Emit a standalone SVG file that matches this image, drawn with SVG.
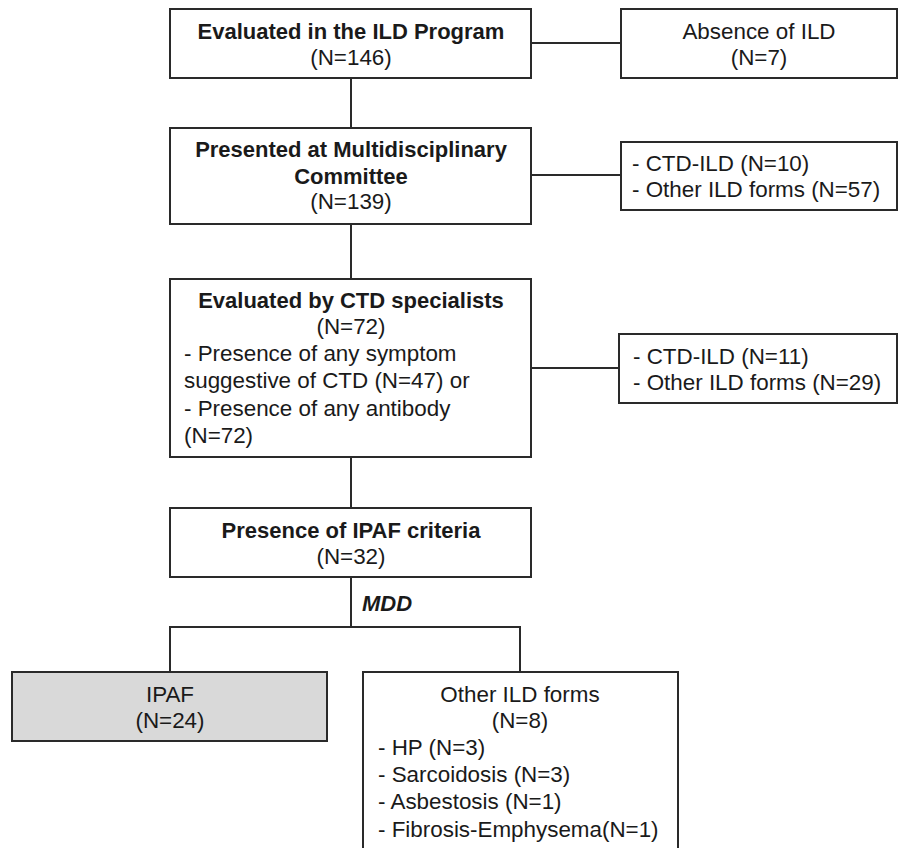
<svg xmlns="http://www.w3.org/2000/svg" width="899" height="848" viewBox="0 0 899 848">
<style>
.box{fill:#ffffff;stroke:#2a2a2a;stroke-width:2}
.gray{fill:#d9d9d9;stroke:#2a2a2a;stroke-width:2}
.ln{stroke:#2a2a2a;stroke-width:2;fill:none}
text{font-family:"Liberation Sans",Arial,sans-serif;font-size:22.4px;fill:#1a1a1a}
.c{text-anchor:middle}
.b{font-weight:bold;font-size:22px}
.bi{font-weight:bold;font-style:italic;font-size:22px}
</style>
<rect width="899" height="848" fill="#ffffff"/>
<g id="connectors">
<line class="ln" x1="351" y1="78" x2="351" y2="128"/>
<line class="ln" x1="531" y1="43" x2="621" y2="43"/>
<line class="ln" x1="351" y1="224" x2="351" y2="279"/>
<line class="ln" x1="531" y1="175" x2="621" y2="175"/>
<line class="ln" x1="351" y1="457" x2="351" y2="508"/>
<line class="ln" x1="531" y1="368" x2="619" y2="368"/>
<line class="ln" x1="351" y1="577" x2="351" y2="627"/>
<polyline class="ln" points="170,672 170,627 520,627 520,672"/>
<text class="bi" x="362" y="611">MDD</text>
</g>
<g id="n1">
<rect class="box" x="170" y="9" width="361" height="69"/>
<text class="c b" x="351" y="39">Evaluated in the ILD Program</text>
<text class="c" x="351" y="65">(N=146)</text>
</g>
<g id="n1r">
<rect class="box" x="621" y="9" width="276" height="69"/>
<text class="c" x="759" y="39">Absence of ILD</text>
<text class="c" x="759" y="65">(N=7)</text>
</g>
<g id="n2">
<rect class="box" x="170" y="128" width="361" height="96"/>
<text class="c b" x="351" y="157">Presented at Multidisciplinary</text>
<text class="c b" x="351" y="184">Committee</text>
<text class="c" x="351" y="209">(N=139)</text>
</g>
<g id="n2r">
<rect class="box" x="621" y="142" width="276" height="68"/>
<text x="632" y="171">- CTD-ILD (N=10)</text>
<text x="632" y="197">- Other ILD forms (N=57)</text>
</g>
<g id="n3">
<rect class="box" x="170" y="279" width="361" height="178"/>
<text class="c b" x="351" y="308">Evaluated by CTD specialists</text>
<text class="c" x="351" y="334">(N=72)</text>
<text x="184" y="361">- Presence of any symptom</text>
<text x="184" y="388">suggestive of CTD (N=47) or</text>
<text x="184" y="416">- Presence of any antibody</text>
<text x="184" y="443">(N=72)</text>
</g>
<g id="n3r">
<rect class="box" x="619" y="334" width="278" height="69"/>
<text x="633" y="364">- CTD-ILD (N=11)</text>
<text x="633" y="390">- Other ILD forms (N=29)</text>
</g>
<g id="n4">
<rect class="box" x="170" y="508" width="361" height="69"/>
<text class="c b" x="351" y="538">Presence of IPAF criteria</text>
<text class="c" x="351" y="564">(N=32)</text>
</g>
<g id="n5">
<rect class="gray" x="12" y="672" width="315" height="69"/>
<text class="c" x="170" y="702">IPAF</text>
<text class="c" x="170" y="728">(N=24)</text>
</g>
<g id="n6">
<rect class="box" x="363" y="672" width="315" height="190"/>
<text class="c" x="520" y="702">Other ILD forms</text>
<text class="c" x="520" y="728">(N=8)</text>
<text x="378" y="755">- HP (N=3)</text>
<text x="378" y="782">- Sarcoidosis (N=3)</text>
<text x="378" y="809">- Asbestosis (N=1)</text>
<text x="378" y="837">- Fibrosis-Emphysema(N=1)</text>
</g>
</svg>
